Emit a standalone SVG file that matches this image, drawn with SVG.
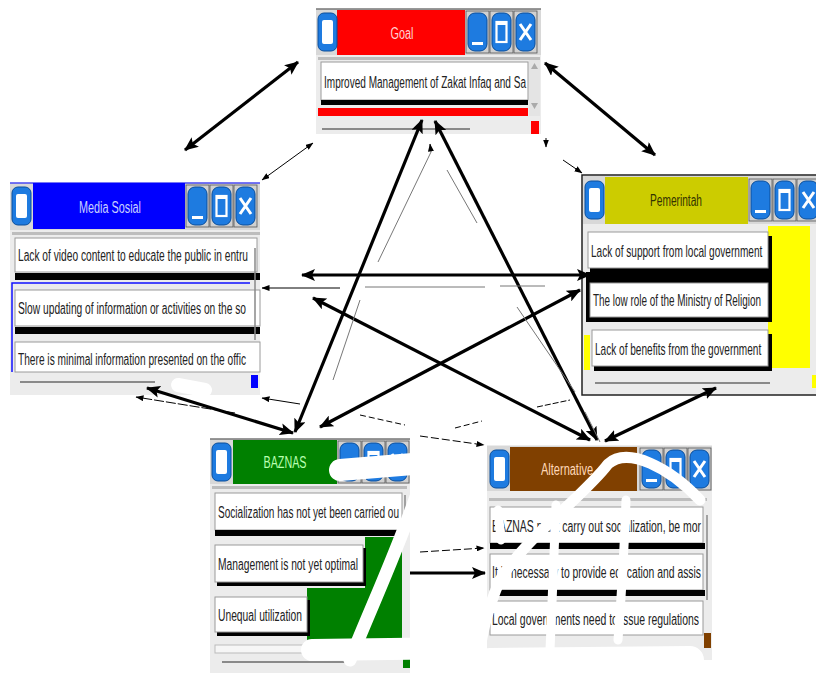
<svg xmlns="http://www.w3.org/2000/svg" width="816" height="673" viewBox="0 0 816 673">
<style>
.win{fill:#ececec}
.item{fill:#fff;stroke:#9a9a9a;stroke-width:1}
.t{font-family:"Liberation Sans",Arial,sans-serif;font-size:16px;fill:#222}
.ttl{font-family:"Liberation Sans",Arial,sans-serif;font-size:16px;text-anchor:middle}
.sh{fill:#000}
.sl{stroke:#8a8a8a;stroke-width:2;fill:none}
.c{stroke:#000;stroke-width:3.2;fill:none;marker-start:url(#ah);marker-end:url(#ah)}
.c1{stroke:#000;stroke-width:3.2;fill:none;marker-end:url(#ah)}
.th{stroke:#000;stroke-width:1;fill:none}
.thb{stroke:#000;stroke-width:1;fill:none;marker-start:url(#as);marker-end:url(#as)}
.the{stroke:#000;stroke-width:1;fill:none;marker-end:url(#as)}
.fa{stroke:#777;stroke-width:1;fill:none}
.er{stroke:#fff;fill:none;stroke-linecap:round;stroke-linejoin:round}
</style>
<defs>
<marker id="ah" viewBox="0 0 14 12" refX="13" refY="6" markerWidth="14" markerHeight="12" orient="auto-start-reverse" markerUnits="userSpaceOnUse"><path d="M0,0 L14,6 L0,12 L3,6 z" fill="#000"/></marker>
<marker id="as" viewBox="0 0 8 6" refX="7.5" refY="3" markerWidth="8" markerHeight="6" orient="auto-start-reverse" markerUnits="userSpaceOnUse"><path d="M0,0 L8,3 L0,6 z" fill="#000"/></marker>
<clipPath id="canvas"><rect x="0" y="0" width="816" height="673"/></clipPath>
<g id="bi"><rect x="1" y="2" width="19" height="38" rx="6" fill="#1e7be0" stroke="#0a4e9b"/><rect x="5" y="9" width="11" height="24" rx="2" fill="#fff"/></g>
<g id="bmin"><rect x="0" y="0" width="23" height="42" fill="#d0d0d0" stroke="#555" stroke-width="0.8"/><rect x="2" y="2" width="19" height="38" rx="7" fill="#1e7be0" stroke="#0a4e9b"/><rect x="6" y="31" width="11" height="3" fill="#fff"/></g>
<g id="bmax"><rect x="0" y="0" width="23" height="42" fill="#d0d0d0" stroke="#555" stroke-width="0.8"/><rect x="2" y="2" width="19" height="38" rx="7" fill="#1e7be0" stroke="#0a4e9b"/><rect x="6.5" y="11" width="10" height="20" fill="none" stroke="#fff" stroke-width="2.2"/><rect x="6.5" y="11" width="10" height="3" fill="#fff"/></g>
<g id="bx"><rect x="0" y="0" width="23" height="42" fill="#d0d0d0" stroke="#555" stroke-width="0.8"/><rect x="2" y="2" width="19" height="38" rx="7" fill="#1e7be0" stroke="#0a4e9b"/><path d="M6,13 L17,29 M17,13 L6,29" stroke="#fff" stroke-width="3"/></g>
</defs>

<g id="goal">
<rect class="win" x="316" y="8" width="225" height="126"/>
<rect x="316" y="9" width="225" height="46" fill="#d8d8d8"/>
<rect x="337" y="10" width="128" height="45" fill="#ff0000"/>
<line x1="316" y1="9" x2="541" y2="9" stroke="#444" stroke-width="1.2"/>
<use href="#bi" x="317" y="11"/>
<use href="#bmin" x="466" y="11"/>
<use href="#bmax" x="490" y="11"/>
<use href="#bx" x="514" y="11"/>
<text class="ttl" x="402" y="39" fill="#ffd0d0" textLength="23" lengthAdjust="spacingAndGlyphs">Goal</text>
<rect x="318" y="57" width="222" height="3" fill="#bdbdbd"/>
<rect class="item" x="321" y="62" width="207" height="38"/>
<text class="t" x="324" y="88" textLength="202" lengthAdjust="spacingAndGlyphs">Improved Management of Zakat Infaq and Sa</text>
<rect class="sh" x="321" y="100" width="207" height="5"/>
<rect x="318" y="108" width="210" height="8" fill="#ff0000"/>
<rect x="529" y="60" width="11" height="56" fill="#e4e4e4"/>
<path d="M531,69 L534.5,63 L538,69 z M531,103 L534.5,109 L538,103 z" fill="#aaa"/>
<line class="sl" x1="322" y1="129" x2="470" y2="129"/>
<rect x="531" y="121" width="8" height="13" fill="#ff0000"/>
</g>

<g id="media">
<rect class="win" x="10" y="182" width="250" height="213"/>
<rect x="10" y="183" width="250" height="47" fill="#d8d8d8"/>
<rect x="33" y="183" width="152" height="46" fill="#0000ff"/>
<line x1="10" y1="183" x2="260" y2="183" stroke="#0000ff" stroke-width="1.2"/>
<use href="#bi" x="11" y="185"/>
<use href="#bmin" x="186" y="185"/>
<use href="#bmax" x="210" y="185"/>
<use href="#bx" x="234" y="185"/>
<text class="ttl" x="110" y="213" fill="#c8d0ff" textLength="62" lengthAdjust="spacingAndGlyphs">Media Sosial</text>
<rect x="12" y="232" width="248" height="3" fill="#bdbdbd"/>
<rect class="item" x="15" y="238" width="242" height="34"/>
<text class="t" x="18" y="261" textLength="230" lengthAdjust="spacingAndGlyphs">Lack of video content to educate the public in entru</text>
<rect class="sh" x="15" y="273" width="245" height="7"/>
<path d="M12,372 L12,283 L250,283" stroke="#1010ff" stroke-width="1.5" fill="none"/>
<rect class="item" x="15" y="290" width="245" height="36"/>
<text class="t" x="18" y="314" textLength="228" lengthAdjust="spacingAndGlyphs">Slow updating of information or activities on the so</text>
<rect class="sh" x="15" y="327" width="245" height="7"/>
<rect class="item" x="15" y="342" width="245" height="30"/>
<text class="t" x="18" y="365" textLength="228" lengthAdjust="spacingAndGlyphs">There is minimal information presented on the offic</text>
<line x1="255" y1="248" x2="255" y2="340" stroke="#888" stroke-width="1.5"/>
<line class="sl" x1="20" y1="382" x2="155" y2="382"/>
<rect x="251" y="375" width="7" height="13" fill="#0000ff"/>
</g>

<g id="pemerintah" clip-path="url(#canvas)">
<rect class="win" x="582" y="175" width="240" height="220" stroke="#222" stroke-width="1.5"/>
<rect x="583" y="176" width="233" height="48" fill="#d8d8d8"/>
<rect x="605" y="177" width="143" height="47" fill="#cccc00"/>
<use href="#bi" x="584" y="179"/>
<use href="#bmin" x="749" y="179"/>
<use href="#bmax" x="773" y="179"/>
<use href="#bx" x="797" y="179"/>
<text class="ttl" x="676" y="206" fill="#333300" textLength="52" lengthAdjust="spacingAndGlyphs">Pemerintah</text>
<rect x="768" y="226" width="42" height="142" fill="#ffff00"/>
<rect x="584" y="335" width="6" height="35" fill="#ffff00"/>
<rect class="sh" x="590" y="236" width="182" height="37"/>
<rect class="item" x="588" y="232" width="180" height="36"/>
<text class="t" transform="translate(591,257) scale(0.63,1)">Lack of support from local government</text>
<rect class="sh" x="586" y="272" width="186" height="50"/>
<rect class="item" x="590" y="283" width="178" height="34"/>
<text class="t" transform="translate(593,306) scale(0.62,1)">The low role of the Ministry of Religion</text>
<rect class="sh" x="594" y="334" width="178" height="37"/>
<rect class="item" x="592" y="330" width="176" height="36"/>
<text class="t" transform="translate(595,355) scale(0.63,1)">Lack of benefits from the government</text>
<line class="sl" x1="595" y1="383" x2="770" y2="383"/>
<rect x="812" y="375" width="4" height="13" fill="#ffff00"/>
</g>

<g id="baznas">
<rect class="win" x="210" y="438" width="200" height="235"/>
<rect x="210" y="439" width="200" height="45" fill="#d8d8d8"/>
<rect x="233" y="440" width="104" height="44" fill="#008000"/>
<line x1="210" y1="439" x2="410" y2="439" stroke="#444" stroke-width="1.2"/>
<use href="#bi" x="211" y="441"/>
<use href="#bmin" x="338" y="441"/>
<use href="#bmax" x="362" y="441"/>
<use href="#bx" x="386" y="441"/>
<text class="ttl" x="285" y="468" fill="#b8ffb0" textLength="43" lengthAdjust="spacingAndGlyphs">BAZNAS</text>
<rect x="212" y="486" width="195" height="3" fill="#bdbdbd"/>
<rect class="item" x="215" y="493" width="187" height="37"/>
<text class="t" x="218" y="518" textLength="181" lengthAdjust="spacingAndGlyphs">Socialization has not yet been carried ou</text>
<rect class="sh" x="215" y="530" width="190" height="6"/>
<line x1="405" y1="495" x2="405" y2="528" stroke="#888" stroke-width="1.5"/>
<rect x="365" y="537" width="37" height="105" fill="#008000"/>
<rect x="307" y="588" width="95" height="54" fill="#008000"/>
<rect class="sh" x="217" y="548" width="149" height="38"/>
<rect class="item" x="215" y="545" width="148" height="37"/>
<text class="t" x="218" y="570" textLength="140" lengthAdjust="spacingAndGlyphs">Management is not yet optimal</text>
<rect class="sh" x="217" y="600" width="93" height="36"/>
<rect class="item" x="215" y="597" width="92" height="35"/>
<text class="t" x="218" y="621" textLength="84" lengthAdjust="spacingAndGlyphs">Unequal utilization</text>
<rect x="215" y="645" width="190" height="8" fill="#f6f6f6" stroke="#bbb"/>
<line class="sl" x1="222" y1="662" x2="345" y2="662"/>
<rect x="403" y="655" width="7" height="13" fill="#008000"/>
</g>

<g id="alternative">
<rect class="win" x="487" y="445" width="225" height="215"/>
<rect x="487" y="446" width="225" height="45" fill="#d8d8d8"/>
<rect x="510" y="447" width="127" height="44" fill="#804000"/>
<use href="#bi" x="489" y="448"/>
<use href="#bmin" x="640" y="448"/>
<use href="#bmax" x="664" y="448"/>
<use href="#bx" x="688" y="448"/>
<text class="ttl" x="567" y="475" fill="#ffd8b8" textLength="52" lengthAdjust="spacingAndGlyphs">Alternative</text>
<rect x="489" y="498" width="218" height="3" fill="#bdbdbd"/>
<rect class="item" x="490" y="507" width="213" height="36"/>
<text class="t" x="492" y="532" textLength="209" lengthAdjust="spacingAndGlyphs">BAZNAS must carry out socialization, be mor</text>
<rect class="sh" x="490" y="543" width="215" height="6"/>
<rect class="item" x="490" y="554" width="213" height="36"/>
<text class="t" x="492" y="578" textLength="209" lengthAdjust="spacingAndGlyphs">It is necessary to provide education and assis</text>
<rect class="sh" x="490" y="590" width="215" height="6"/>
<rect class="item" x="490" y="601" width="213" height="34"/>
<text class="t" x="492" y="625" textLength="207" lengthAdjust="spacingAndGlyphs">Local governments need to issue regulations</text>
<line x1="707" y1="515" x2="707" y2="600" stroke="#888" stroke-width="1.5"/>
<rect x="704" y="633" width="7" height="15" fill="#804000"/>
</g>

<g id="connectors">
<path class="c" d="M185,150 L298,62"/>
<path class="c" d="M545,63 L655,155"/>
<path class="c" d="M295,432 L422,120"/>
<path class="c" d="M435,121 L597,440"/>
<path class="c" d="M302,275 L590,275"/>
<path class="c" d="M313,298 L590,440"/>
<path class="c" d="M580,290 L320,427"/>
<path class="c" d="M147,388 L293,433"/>
<path class="c" d="M605,441 L716,388"/>
<path class="c1" d="M410,573 L485,573"/>
<path class="thb" d="M313,143 L262,180"/>
<path class="the" d="M563,160 L582,173"/>
<path class="the" d="M546,138 L546,147"/>
<path class="the" d="M431,152 L430,144"/>
<path class="the" d="M340,288 L262,288"/>
<path class="fa" d="M365,287 L485,287 M500,286 L545,286"/>
<path class="the" d="M235,413 L136,397" stroke-dasharray="10,2"/>
<path class="the" d="M300,404 L262,398"/>
<path class="th" d="M537,407 L570,400" stroke-dasharray="6,2"/>
<path class="the" d="M420,436 L484,445" stroke-dasharray="8,3"/>
<path class="the" d="M420,552 L484,548" stroke-dasharray="8,3"/>
<path class="fa" d="M431,152 L378,262 M360,300 L333,380 M447,170 L477,223 M517,307 L575,392 M585,412 L600,442"/>
<path class="th" d="M360,415 L405,425 M455,428 L482,421" stroke-dasharray="6,3"/>
</g>

<g id="erasure">
<path class="er" stroke-width="22" d="M340,470 L425,463"/>
<path class="er" stroke-width="13" d="M420,485 C400,545 372,605 350,660"/>
<path class="er" stroke-width="22" d="M312,650 L468,648"/>
<path class="er" stroke-width="11" d="M700,500 C670,468 628,446 608,464 C585,495 525,538 500,580 C486,612 480,640 478,668"/>
<path class="er" stroke-width="9" d="M556,505 C554,560 552,600 550,650"/>
<path class="er" stroke-width="9" d="M626,500 C624,560 621,600 618,640"/>
<path class="er" stroke-width="9" d="M498,510 L501,540"/>
<path class="er" stroke-width="28" d="M490,662 L690,660"/>
<path class="er" stroke-width="14" d="M178,385 L205,390"/>
</g>
</svg>
